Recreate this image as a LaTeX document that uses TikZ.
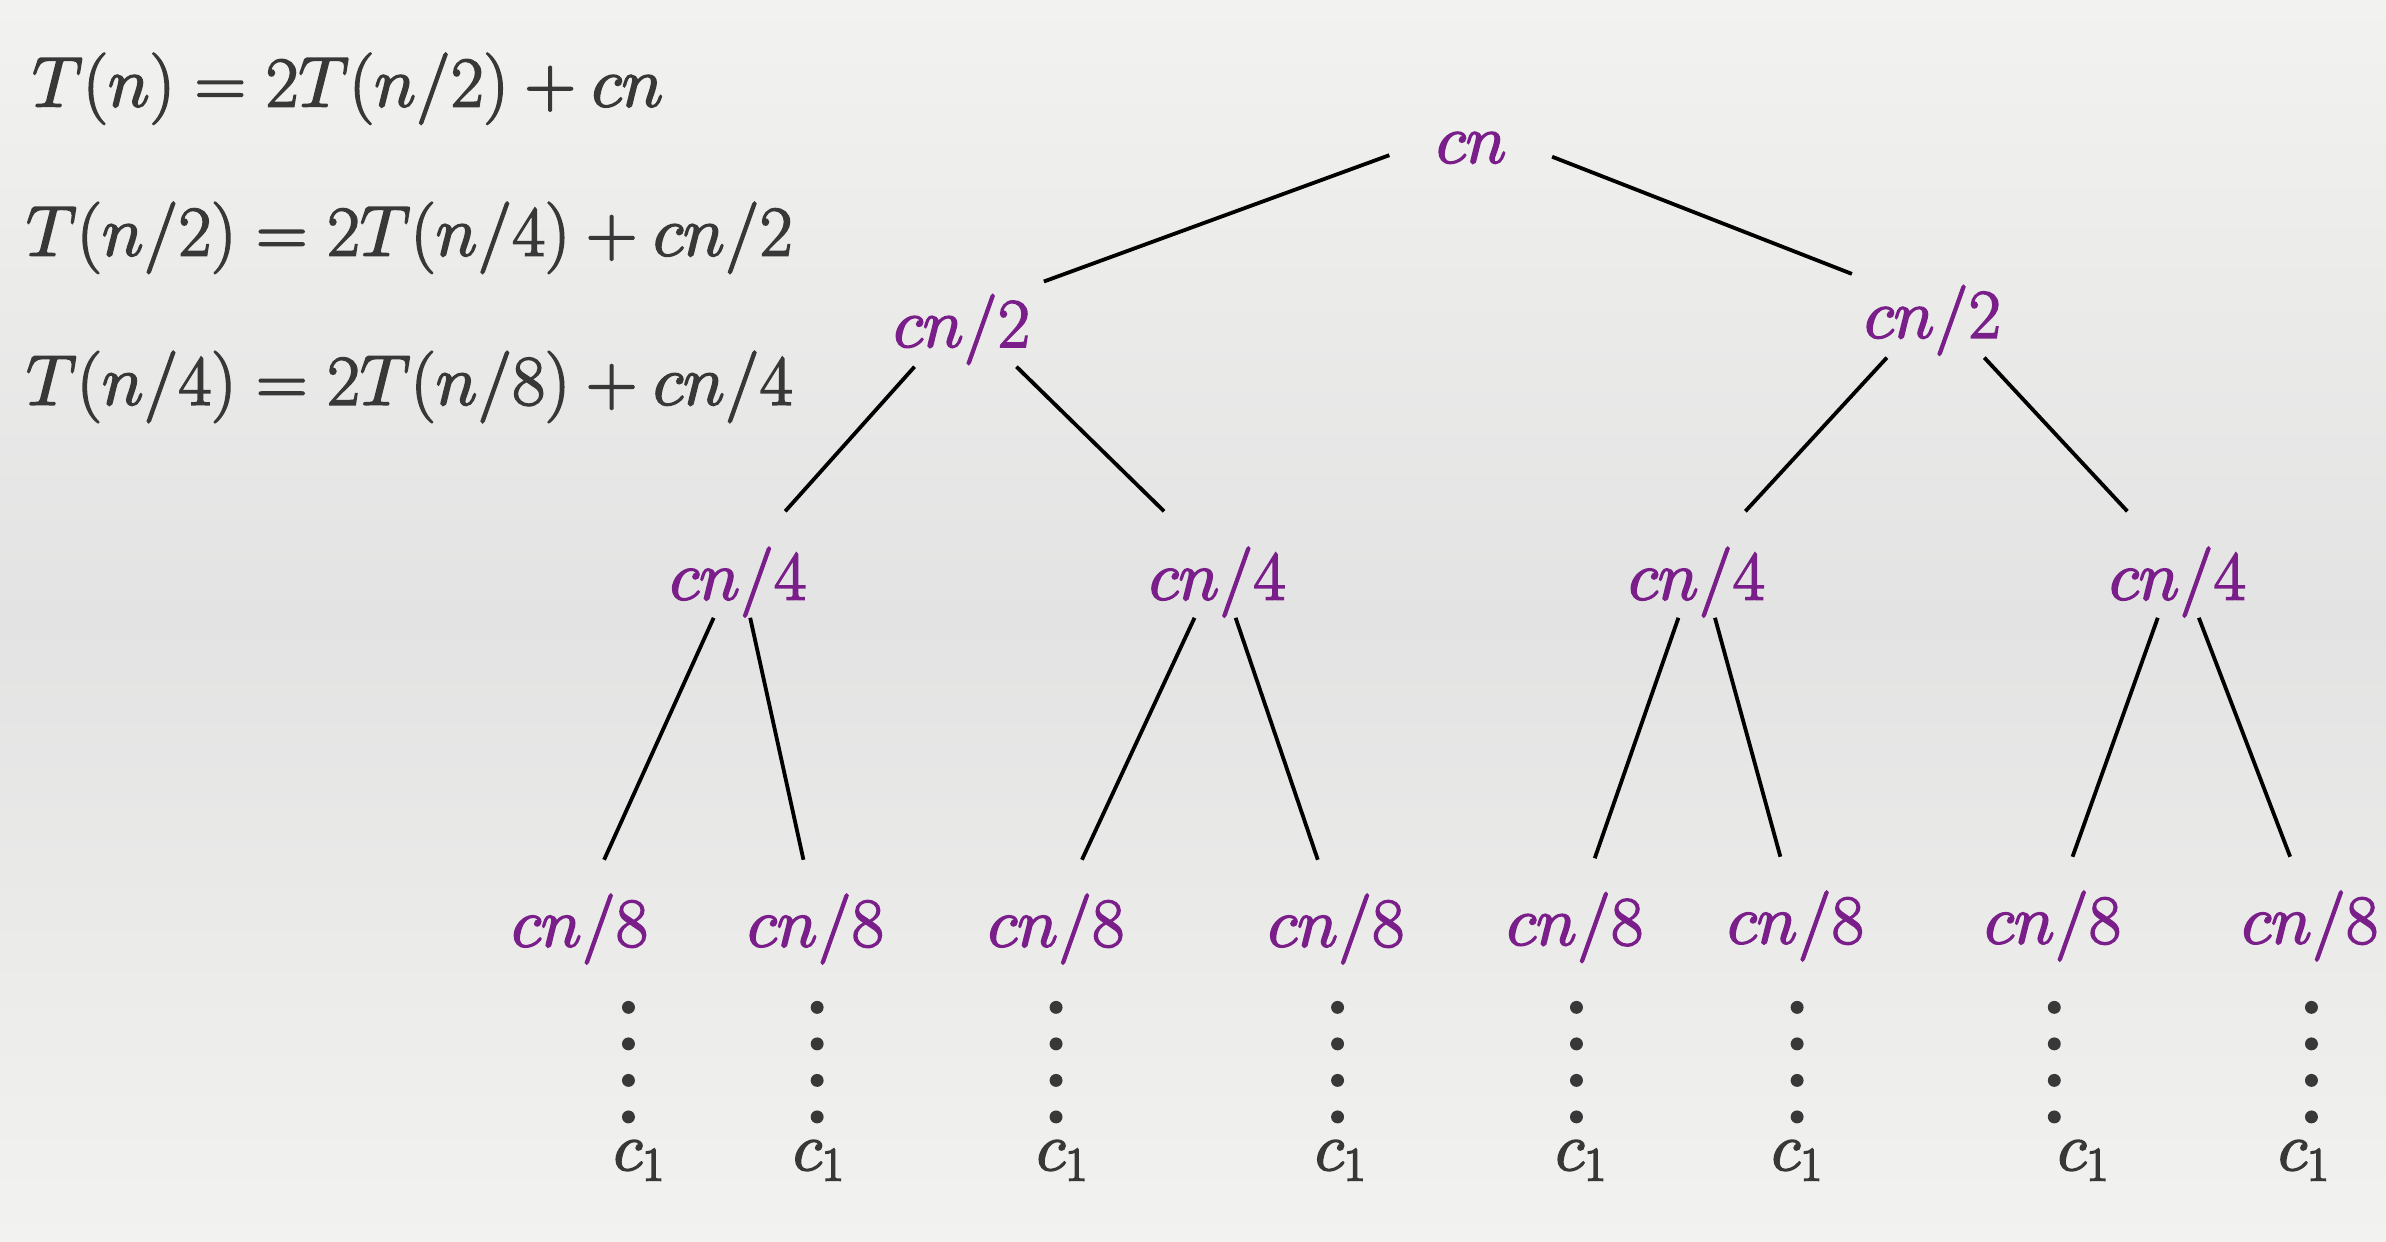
\documentclass[tikz,border=0pt]{standalone}
\usepackage{fix-cm}
\definecolor{tpurple}{RGB}{122,30,138}
\definecolor{tgray}{RGB}{56,56,56}
\definecolor{bgtop}{RGB}{242,242,240}
\definecolor{bgmid}{RGB}{227,227,227}
\definecolor{bgbot}{RGB}{242,242,240}
\newcommand\heavy[1]{\special{pdf:literal direct 2 Tr 1.1 w}#1\special{pdf:literal direct 0 Tr}}
\begin{document}
\begin{tikzpicture}[x=1bp,y=-1bp,
  eq/.style={anchor=base west, inner sep=0, text=tgray, font=\fontsize{47}{55}\selectfont},
  lab/.style={anchor=base, inner sep=0, text=tpurple, font=\fontsize{46}{55}\selectfont},
  leaf/.style={anchor=base west, inner sep=0, text=tgray, font=\fontsize{45}{55}\selectfont},
  vdot/.style={circle, fill=tgray, inner sep=0, minimum size=8.5bp},
  edge/.style={draw=black, line width=2.5bp}]
\useasboundingbox (0,0) rectangle (1568,816);
\shade[top color=bgtop, bottom color=bgbot, middle color=bgmid] (0,0) rectangle (1568,816);
% equations
\node[eq] (e1) at (21,70) {\heavy{$T(n) = 2T(n/2) + cn$}};
\node[eq] (e2) at (17,168) {\heavy{$T(n/2) = 2T(n/4) + cn/2$}};
\node[eq] (e3) at (17,266) {\heavy{$T(n/4) = 2T(n/8) + cn/4$}};
% tree
\node[lab] (cn) at (967,107) {\heavy{$cn$}};
\node[lab] (c2l) at (632,228) {\heavy{$cn/2$}};
\node[lab] (c2r) at (1270,222) {\heavy{$cn/2$}};
\node[lab] (c4a) at (485,394) {\heavy{$cn/4$}};
\node[lab] (c4b) at (800,394) {\heavy{$cn/4$}};
\node[lab] (c4c) at (1115,394) {\heavy{$cn/4$}};
\node[lab] (c4d) at (1431,394) {\heavy{$cn/4$}};
\node[lab] (c8a) at (381,622) {\heavy{$cn/8$}};
\node[lab] (c8b) at (536,622) {\heavy{$cn/8$}};
\node[lab] (c8c) at (694,622) {\heavy{$cn/8$}};
\node[lab] (c8d) at (878,622) {\heavy{$cn/8$}};
\node[lab] (c8e) at (1035,621) {\heavy{$cn/8$}};
\node[lab] (c8f) at (1180,620) {\heavy{$cn/8$}};
\node[lab] (c8g) at (1349,620) {\heavy{$cn/8$}};
\node[lab] (c8h) at (1518,620) {\heavy{$cn/8$}};
% edges
\draw[edge] ([shift={(-54,-5)}]cn.base) -- ([shift={(54,-43)}]c2l.base);
\draw[edge] ([shift={(53,-4)}]cn.base) -- ([shift={(-53,-42)}]c2r.base);
\draw[edge] ([shift={(-31,13)}]c2l.base) -- ([shift={(31,-58)}]c4a.base);
\draw[edge] ([shift={(36,13)}]c2l.base) -- ([shift={(-35,-58)}]c4b.base);
\draw[edge] ([shift={(-30,13)}]c2r.base) -- ([shift={(32,-58)}]c4c.base);
\draw[edge] ([shift={(34,13)}]c2r.base) -- ([shift={(-33,-58)}]c4d.base);
\draw[edge] ([shift={(-16,12)}]c4a.base) -- ([shift={(16,-57)}]c8a.base);
\draw[edge] ([shift={(8,12)}]c4a.base) -- ([shift={(-8,-57)}]c8b.base);
\draw[edge] ([shift={(-15,12)}]c4b.base) -- ([shift={(17,-57)}]c8c.base);
\draw[edge] ([shift={(12,12)}]c4b.base) -- ([shift={(-12,-57)}]c8d.base);
\draw[edge] ([shift={(-12,12)}]c4c.base) -- ([shift={(13,-57)}]c8e.base);
\draw[edge] ([shift={(12,12)}]c4c.base) -- ([shift={(-10,-57)}]c8f.base);
\draw[edge] ([shift={(-13,12)}]c4d.base) -- ([shift={(13,-57)}]c8g.base);
\draw[edge] ([shift={(14,12)}]c4d.base) -- ([shift={(-13,-57)}]c8h.base);
% dots and leaves
\foreach \i/\x/\lx in {1/413/403, 2/537/521, 3/694/681, 4/879/864, 5/1036/1022, 6/1181/1164, 7/1350/1352, 8/1519/1497} {
  \foreach \j/\y in {1/662, 2/686, 3/710, 4/734} {
    \node[vdot] (d\i-\j) at (\x,\y) {};
  }
  \node[leaf] (leaf\i) at (\lx,769) {\heavy{$c_1$}};
}
\end{tikzpicture}
\end{document}
